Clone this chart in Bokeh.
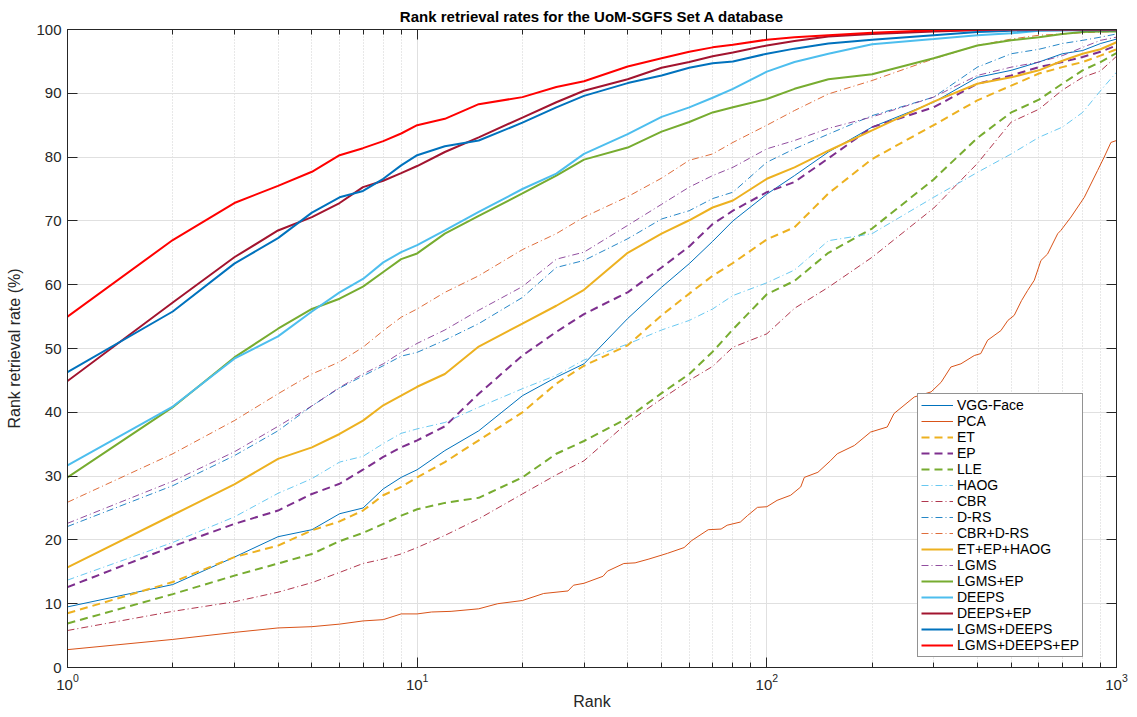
from bokeh.plotting import figure
from bokeh.models import LogAxis, LinearAxis, LogTicker, FixedTicker
from bokeh.embed import file_html
from bokeh.resources import INLINE

ranks = [1, 2, 3, 4, 5, 6, 7, 8, 9, 10, 12, 15, 20, 25, 30, 40, 50, 60, 70, 80,
         100, 120, 150, 200, 300, 400, 500, 600, 700, 800, 900, 1000]

vgg = [9.5, 13.0, 17.3, 20.5, 21.6, 24.1, 25.0, 28.0, 29.8, 31.0, 34.0, 37.1, 42.6, 45.5, 47.6, 54.7,
       59.6, 63.3, 66.8, 70.0, 74.2, 77.1, 80.8, 84.7, 88.6, 92.5, 93.6, 94.9, 96.2, 96.7, 97.8, 98.5]

pca_rank = [1, 2, 3, 4, 5, 6, 7, 8, 9, 10, 11, 12.5, 15, 17, 20, 23, 27, 28, 30, 34, 35, 39, 42, 46, 52,
            58, 61, 68, 74, 77, 84, 88, 94, 100, 107, 117, 125, 128, 140, 152, 159, 178, 198, 221, 231,
            264, 295, 315, 336, 359, 392, 409, 428, 467, 489, 510, 535, 557, 582, 608, 635, 679, 693,
            741, 809, 883, 922, 964, 1000]
pca = [2.8, 4.4, 5.5, 6.2, 6.4, 6.8, 7.3, 7.5, 8.4, 8.4, 8.7, 8.8, 9.2, 10.0, 10.5, 11.6, 12.0, 12.9,
       13.2, 14.3, 15.1, 16.3, 16.4, 17.0, 17.9, 18.8, 19.9, 21.6, 21.7, 22.3, 22.8, 23.8, 25.1, 25.2,
       26.2, 27.0, 28.3, 29.8, 30.6, 32.4, 33.5, 34.8, 36.9, 37.7, 39.8, 42.4, 43.2, 44.7, 47.1, 47.6,
       48.9, 49.2, 51.3, 52.8, 54.4, 55.2, 57.5, 59.1, 60.7, 63.8, 64.8, 68.0, 68.5, 70.6, 73.7, 77.9,
       80.0, 82.3, 82.6]

et = [8.5, 13.4, 17.3, 19.1, 21.5, 22.9, 24.6, 27.0, 28.3, 29.8, 32.2, 35.6, 40.0, 44.5, 47.3, 50.5,
      55.2, 58.6, 61.4, 63.4, 67.1, 69.0, 74.3, 79.7, 85.0, 88.9, 91.2, 93.1, 94.1, 94.9, 95.9, 96.9]

ep = [12.6, 19.0, 22.5, 24.6, 27.2, 28.8, 31.0, 33.0, 34.5, 35.6, 37.8, 42.9, 48.9, 52.6, 55.4, 58.8,
      62.7, 66.0, 69.5, 71.6, 74.5, 76.1, 79.8, 84.7, 87.8, 91.5, 92.8, 94.1, 94.9, 95.7, 96.5, 97.5]

lle = [6.9, 11.5, 14.4, 16.3, 17.8, 19.8, 21.1, 22.5, 23.8, 24.8, 25.8, 26.6, 29.8, 33.5, 35.5, 39.1,
       43.0, 46.0, 49.5, 53.0, 58.5, 60.6, 65.0, 68.8, 76.5, 83.0, 87.0, 89.0, 91.5, 93.6, 94.9, 96.3]

haog = [13.7, 19.6, 23.6, 27.3, 29.6, 32.2, 33.1, 35.1, 36.7, 37.4, 38.4, 40.8, 43.7, 45.8, 48.2, 50.7,
        52.9, 54.4, 56.2, 58.3, 60.3, 62.3, 66.9, 68.0, 73.7, 77.6, 80.5, 83.1, 84.7, 87.0, 90.4, 93.3]

cbr = [5.8, 8.8, 10.3, 11.8, 13.3, 14.9, 16.3, 17.0, 17.8, 18.8, 20.7, 23.3, 27.2, 30.2, 32.4, 38.4,
       42.1, 45.0, 47.2, 50.2, 52.3, 56.3, 59.6, 64.3, 72.0, 79.0, 85.5, 87.5, 90.5, 92.5, 93.5, 95.8]

drs = [22.1, 28.5, 33.2, 37.1, 41.0, 43.8, 45.7, 47.3, 48.8, 49.4, 51.3, 53.9, 58.0, 62.7, 63.8, 67.2,
       70.3, 71.6, 73.5, 74.5, 79.2, 81.3, 83.6, 86.5, 89.4, 94.1, 96.2, 96.9, 97.8, 98.3, 98.8, 99.3]

cbr_drs = [25.9, 33.5, 38.7, 42.9, 46.0, 47.9, 50.2, 52.8, 54.9, 56.2, 58.8, 61.4, 65.5, 68.0, 70.6, 73.8,
           76.7, 79.5, 80.5, 82.3, 85.0, 87.3, 89.9, 92.0, 95.4, 97.5, 98.5, 99.1, 99.3, 99.5, 99.6, 99.7]

et_ep_haog = [15.7, 23.9, 28.7, 32.7, 34.5, 36.6, 38.7, 41.1, 42.6, 44.0, 46.0, 50.3, 53.9, 56.7, 59.2,
              65.0, 68.0, 70.1, 72.1, 73.2, 76.6, 78.4, 81.0, 84.2, 88.7, 91.5, 92.5, 93.6, 95.1, 96.2,
              96.9, 98.0]

lgms = [22.6, 29.2, 33.8, 37.8, 41.0, 43.9, 46.0, 47.6, 49.4, 50.8, 52.9, 56.0, 59.7, 64.0, 65.1, 69.3,
        72.6, 75.3, 77.1, 78.4, 81.3, 82.6, 84.5, 86.3, 89.4, 92.8, 94.1, 94.9, 95.9, 97.2, 98.3, 98.8]

lgms_ep = [29.8, 40.8, 48.6, 53.1, 56.2, 57.8, 59.7, 62.0, 64.0, 64.9, 68.0, 70.8, 74.3, 77.1, 79.6, 81.5,
           84.0, 85.5, 87.0, 87.8, 89.1, 90.7, 92.2, 93.0, 95.5, 97.5, 98.3, 98.8, 99.3, 99.6, 99.7, 99.7]

deeps = [31.7, 40.9, 48.4, 51.9, 55.8, 58.8, 60.9, 63.5, 65.1, 66.2, 68.5, 71.4, 75.0, 77.4, 80.5, 83.6,
         86.3, 87.8, 89.3, 90.7, 93.4, 94.9, 96.2, 97.7, 98.5, 99.1, 99.4, 99.8, 99.9, 100, 100, 100]

deeps_ep = [44.9, 57.2, 64.3, 68.5, 70.6, 72.8, 75.3, 76.3, 77.5, 78.6, 80.8, 83.1, 86.2, 88.6, 90.4, 92.2,
            94.0, 94.9, 95.8, 96.4, 97.5, 98.2, 98.9, 99.3, 99.7, 99.9, 100, 100, 100, 100, 100, 100]

lgms_deeps = [46.3, 55.8, 63.3, 67.3, 71.3, 73.7, 74.7, 76.6, 78.7, 80.3, 81.7, 82.6, 85.4, 87.8, 89.6,
              91.6, 92.8, 94.0, 94.7, 95.0, 96.2, 97.0, 97.8, 98.4, 99.1, 99.6, 99.8, 99.9, 99.9, 99.9,
              99.9, 99.9]

lgms_deeps_ep = [55.0, 67.0, 72.8, 75.5, 77.7, 80.3, 81.4, 82.5, 83.7, 85.0, 86.0, 88.3, 89.4, 91.0, 91.9,
                 94.2, 95.5, 96.5, 97.2, 97.6, 98.4, 98.8, 99.1, 99.5, 99.9, 100, 100, 100, 100, 100,
                 100, 100]

y_ticks = [0, 10, 20, 30, 40, 50, 60, 70, 80, 90, 100]

FONT = "Liberation Sans"
AX = "#262626"

p = figure(width=1137, height=717, x_axis_type="log", x_range=(1, 1000), y_range=(0, 100),
           output_backend="svg", toolbar_location=None,
           min_border_left=67, min_border_right=21, min_border_top=29, min_border_bottom=50,
           title="Rank retrieval rates for the UoM-SGFS Set A database")
p.title.align = "center"
p.title.text_font = FONT
p.title.text_font_size = "15px"
p.title.text_font_style = "bold"
p.title.text_color = "#000000"
p.title.standoff = 9
p.outline_line_color = None

xt = LogTicker(num_minor_ticks=10)
yt = FixedTicker(ticks=y_ticks)

bottom = p.below[0]
left = p.left[0]
bottom.ticker = xt
left.ticker = yt

top = LogAxis(ticker=xt)
right = LinearAxis(ticker=yt)
p.add_layout(top, "above")
p.add_layout(right, "right")

for ax in [bottom, left, top, right]:
    ax.axis_line_color = AX
    ax.major_tick_line_color = AX
    ax.minor_tick_line_color = AX
    ax.major_tick_in = 10
    ax.major_tick_out = 0
    ax.minor_tick_in = 5
    ax.minor_tick_out = 0
    ax.major_label_text_font = FONT
    ax.major_label_text_font_size = "15px"
    ax.major_label_text_color = AX
    ax.axis_label_text_font = FONT
    ax.axis_label_text_font_size = "16px"
    ax.axis_label_text_font_style = "normal"
    ax.axis_label_text_color = AX

for ax in [left, right]:
    ax.minor_tick_line_color = None

for ax in [top, right]:
    ax.major_label_text_font_size = "1px"
    ax.major_label_text_alpha = 0
    ax.major_label_standoff = 0

bottom.axis_label = "Rank"
left.axis_label = "Rank retrieval rate (%)"
bottom.major_label_standoff = 6
left.major_label_standoff = 6
bottom.axis_label_standoff = 0
left.axis_label_standoff = 10

p.xgrid.ticker = xt
p.ygrid.ticker = yt
p.xgrid.grid_line_color = "#e0e0e0"
p.ygrid.grid_line_color = "#e0e0e0"
p.xgrid.minor_grid_line_color = "#d0d0d0"
p.xgrid.minor_grid_line_dash = "1 2"

series = [
    ("VGG-Face", ranks, vgg, "#0072BD", 1.0, "solid", 1.0),
    ("PCA", pca_rank, pca, "#D95319", 1.0, "solid", 1.0),
    ("ET", ranks, et, "#EDB120", 2.0, "8 5", 1.0),
    ("EP", ranks, ep, "#7E2F8E", 2.0, "8 5", 1.0),
    ("LLE", ranks, lle, "#77AC30", 2.0, "8 5", 1.0),
    ("HAOG", ranks, haog, "#4DBEEE", 1.0, "7 3 1 3", 0.85),
    ("CBR", ranks, cbr, "#A2142F", 1.0, "7 3 1 3", 0.85),
    ("D-RS", ranks, drs, "#0072BD", 1.0, "7 3 1 3", 0.85),
    ("CBR+D-RS", ranks, cbr_drs, "#D95319", 1.0, "7 3 1 3", 0.85),
    ("ET+EP+HAOG", ranks, et_ep_haog, "#EDB120", 2.0, "solid", 1.0),
    ("LGMS", ranks, lgms, "#7E2F8E", 1.0, "7 3 1 3", 0.85),
    ("LGMS+EP", ranks, lgms_ep, "#77AC30", 2.0, "solid", 1.0),
    ("DEEPS", ranks, deeps, "#4DBEEE", 2.0, "solid", 1.0),
    ("DEEPS+EP", ranks, deeps_ep, "#A2142F", 2.0, "solid", 1.0),
    ("LGMS+DEEPS", ranks, lgms_deeps, "#0072BD", 2.0, "solid", 1.0),
    ("LGMS+DEEPS+EP", ranks, lgms_deeps_ep, "#FF0000", 2.0, "solid", 1.0),
]

for name, xs, ys, col, w, dash, a in series:
    p.line(xs, ys, line_color=col, line_width=w, line_dash=dash, line_alpha=a, legend_label=name)

lg = p.legend[0]
lg.location = (850, 10)
lg.label_text_font = FONT
lg.label_text_font_size = "14px"
lg.label_text_color = "#000000"
lg.label_height = 14
lg.glyph_height = 14
lg.glyph_width = 32
lg.spacing = 0
lg.padding = 3
lg.margin = 0
lg.label_standoff = 4
lg.border_line_color = AX
lg.border_line_width = 1
lg.background_fill_color = "white"
lg.background_fill_alpha = 1.0

open("out.html", "w").write(file_html(p, INLINE))
